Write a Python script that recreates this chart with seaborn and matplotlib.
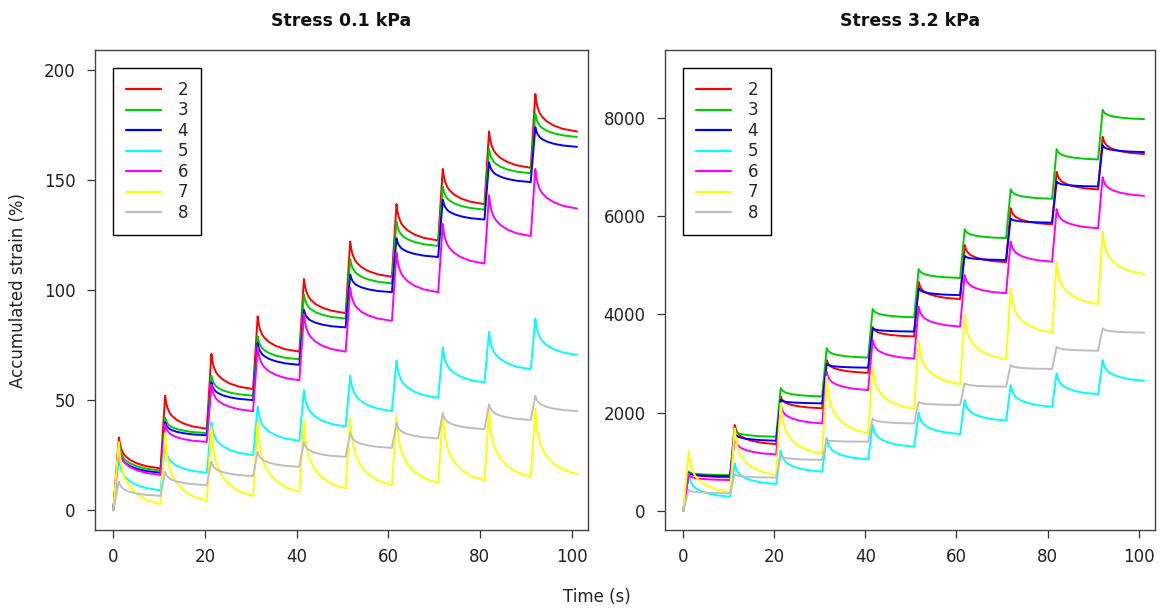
import numpy as np
import pandas as pd
import seaborn as sns
import matplotlib
matplotlib.use('Agg')
import matplotlib.pyplot as plt

sns.set_style('ticks')
plt.rcParams['font.family'] = ['DejaVu Sans']

# series labels and R-style colours
series = ['2', '3', '4', '5', '6', '7', '8']
colors = ['#FF0000', '#00CD00', '#0000FF', '#00FFFF', '#FF00FF', '#FFFF00', '#BEBEBE']

# times (s) of the strain peak in each loading cycle
peak_times = [1.2, 11.3, 21.4, 31.5, 41.6, 51.7, 61.8, 71.9, 82.0, 92.1]
# shape of the decay after each peak (fraction of drop left)
decay_offsets = [0.0, 0.25, 0.5, 1.0, 1.5, 2.5, 4.0, 6.0, 9.1]
decay_profile = [1.0, 0.78, 0.64, 0.48, 0.39, 0.27, 0.16, 0.07, 0.0]

# Stress 0.1 kPa: peak / end-of-cycle strain (%) per cycle
low_peaks = {
    '2': [33, 52, 71, 88, 105, 122, 139, 155, 172, 189],
    '3': [30, 42, 61, 79, 98, 114, 131, 147, 164, 180],
    '4': [28, 40, 58, 76, 91, 107, 123.5, 141, 158, 174],
    '5': [24, 29, 40, 47, 54.5, 61, 68, 74, 81, 87],
    '6': [29, 39, 57, 74, 89, 101, 117, 130, 143, 155],
    '7': [31, 35, 38, 40, 41, 42, 43, 44.5, 45.5, 46],
    '8': [13, 17.5, 22, 26.5, 31, 35, 39.5, 44, 48, 52],
}
low_ends = {
    '2': [19, 37, 55, 72, 89.5, 106, 122.5, 139, 155.5, 172],
    '3': [18, 35, 52, 68.5, 87, 103, 120, 136.5, 153, 169.5],
    '4': [17, 34, 50, 66, 83, 99, 115, 132, 149, 165],
    '5': [9, 17, 25, 31.5, 38, 45, 51, 58, 64, 70.5],
    '6': [16, 31, 45, 59, 72, 86, 99, 112, 124.5, 137],
    '7': [2.7, 4.2, 6.4, 8.3, 9.8, 11.4, 12.4, 13.6, 15.2, 16.4],
    '8': [6.5, 11.4, 15.5, 19.7, 24.2, 28.3, 32.6, 36.8, 41, 45],
}

# Stress 3.2 kPa
high_peaks = {
    '2': [800, 1750, 2330, 3070, 3740, 4660, 5410, 6160, 6900, 7610],
    '3': [800, 1650, 2500, 3310, 4110, 4920, 5730, 6540, 7360, 8160],
    '4': [770, 1580, 2260, 2990, 3716, 4530, 5190, 5950, 6700, 7440],
    '5': [750, 970, 1230, 1480, 1750, 2000, 2260, 2560, 2800, 3070],
    '6': [730, 1480, 2160, 2830, 3480, 4155, 4800, 5480, 6140, 6790],
    '7': [1220, 1680, 2190, 2730, 2950, 3480, 3990, 4530, 5070, 5680],
    '8': [430, 750, 1120, 1440, 1885, 2220, 2600, 2970, 3340, 3716],
}
high_ends = {
    '2': [685, 1360, 2090, 2810, 3550, 4310, 5060, 5830, 6540, 7260],
    '3': [730, 1510, 2330, 3120, 3940, 4740, 5550, 6350, 7150, 7970],
    '4': [710, 1430, 2190, 2915, 3650, 4390, 5105, 5865, 6600, 7300],
    '5': [290, 550, 800, 1050, 1308, 1566, 1840, 2120, 2375, 2650],
    '6': [630, 1150, 1780, 2460, 3100, 3750, 4430, 5070, 5750, 6410],
    '7': [380, 730, 1160, 1580, 2080, 2580, 3090, 3630, 4210, 4820],
    '8': [360, 680, 1040, 1410, 1780, 2156, 2528, 2888, 3260, 3627],
}


def build_frame(peaks, ends):
    rows = []
    for s in series:
        rows.append((s, 0.0, 0.0))
        for k, tp in enumerate(peak_times):
            p, e = peaks[s][k], ends[s][k]
            for off, frac in zip(decay_offsets, decay_profile):
                rows.append((s, tp + off, e + (p - e) * frac))
    return pd.DataFrame(rows, columns=['series', 'time', 'strain'])


fig = plt.figure(figsize=(11.6, 6.12), dpi=100)
ax1 = fig.add_axes([95 / 1160, 1 - 530 / 612, 493 / 1160, 480 / 612])
ax2 = fig.add_axes([665 / 1160, 1 - 530 / 612, 490 / 1160, 480 / 612])

panels = [
    (ax1, low_peaks, low_ends, 'Stress 0.1 kPa', (-9, 209), [0, 50, 100, 150, 200]),
    (ax2, high_peaks, high_ends, 'Stress 3.2 kPa', (-386, 9376), [0, 2000, 4000, 6000, 8000]),
]

for ax, pk, en, title, ylim, yticks in panels:
    df = build_frame(pk, en)
    sns.lineplot(data=df, x='time', y='strain', hue='series', palette=colors,
                 estimator=None, sort=False, linewidth=1.4, ax=ax)
    ax.set_xlim(-4, 103.6)
    ax.set_ylim(*ylim)
    ax.set_xticks([0, 20, 40, 60, 80, 100])
    ax.set_yticks(yticks)
    ax.set_xlabel('')
    ax.set_ylabel('')
    ax.set_title(title, fontsize=12.5, fontweight='bold', pad=17, color='#111111')
    ax.tick_params(direction='out', length=6, width=0.9, labelsize=12, colors='#333333',
                   labelcolor='#222222')
    ax.tick_params(axis='x', pad=7)
    ax.tick_params(axis='y', pad=8)
    for sp in ax.spines.values():
        sp.set_visible(True)
        sp.set_color('#444444')
        sp.set_linewidth(1.0)
    leg = ax.legend(loc='upper left', borderaxespad=1.05, fontsize=12, title=None,
                    frameon=True, fancybox=False, framealpha=1, edgecolor='black',
                    handlelength=2.1, handletextpad=1.0, labelspacing=0.15,
                    borderpad=0.8)
    leg.get_frame().set_linewidth(1.0)
    for line in leg.get_lines():
        line.set_linewidth(1.6)

fig.text(18 / 1160, 1 - 290 / 612, 'Accumulated strain (%)', rotation=90,
         ha='center', va='center', fontsize=12, color='#222222')
fig.text(597 / 1160, 1 - 597 / 612, 'Time (s)', ha='center', va='center',
         fontsize=12, color='#222222')

fig.savefig('out.png', dpi=100, facecolor='white')
